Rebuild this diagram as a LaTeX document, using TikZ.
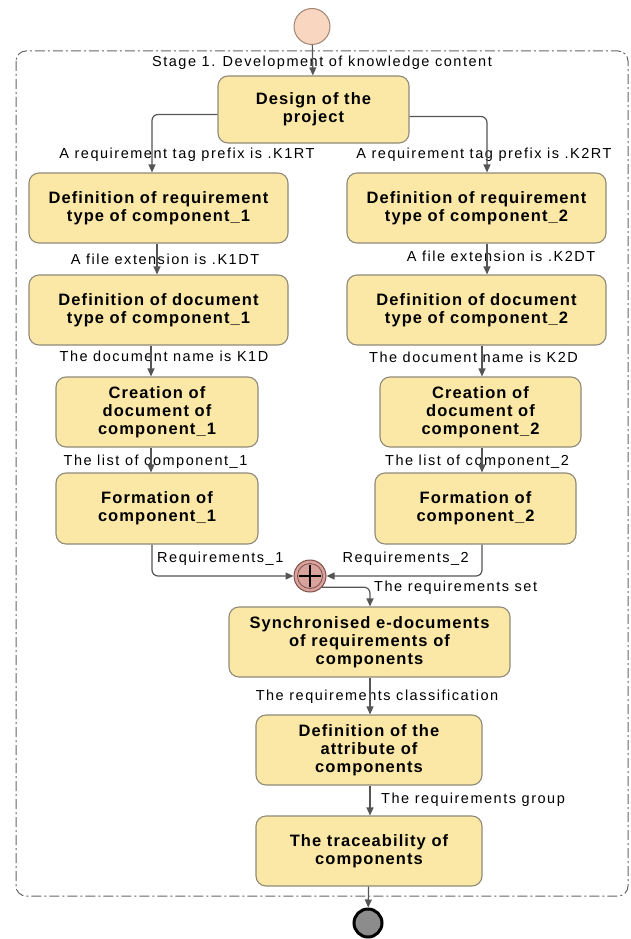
\documentclass[tikz,border=0pt]{standalone}
\usepackage{fontspec}
\setmainfont{Liberation Sans}
\newfontfamily\labfont[LetterSpace=10.5]{Liberation Sans}
\newfontfamily\boxfontfam[LetterSpace=6.5]{Liberation Sans}
\usetikzlibrary{arrows.meta}
\definecolor{boxfill}{HTML}{FCE8A6}
\definecolor{boxline}{HTML}{8F8A78}
\definecolor{conn}{HTML}{555555}
\definecolor{startfill}{HTML}{F9D6BF}
\definecolor{startline}{HTML}{A08474}
\definecolor{gwfill}{HTML}{D9A39D}
\definecolor{gwline}{HTML}{7E4E48}
\tikzset{
  x=1pt, y=-1pt,
  box/.style={draw=boxline, fill=boxfill, line width=1.1pt, rounded corners=10pt,
    align=center, inner sep=0pt, font=\boxfontfam\bfseries\fontsize{16.5}{18}\selectfont},
  lab/.style={inner sep=0pt, font=\labfont\fontsize{14.5}{16}\selectfont},
  conn/.style={draw=conn, line width=1.2pt, rounded corners=6pt,
    -{Triangle[length=8pt,width=7pt]}},
}
\begin{document}
\begin{tikzpicture}
\useasboundingbox (0,0) rectangle (631,939);
% container
\draw[draw=black!60, line width=1pt, rounded corners=10pt,
  dash pattern=on 10pt off 3pt on 2pt off 3pt] (16,51) rectangle (628,896);
% start / end
\node[circle, draw=startline, fill=startfill, line width=1pt, minimum size=36pt, inner sep=0pt] (start) at (312,26.5) {};
\node[circle, draw=black, fill=black!45, line width=3pt, minimum size=28pt, inner sep=0pt] (end) at (368,923) {};
% boxes
\node[box, minimum width=191pt, minimum height=67pt] (design) at (313.5,109.5) {Design of the\\project};
\node[box, minimum width=259pt, minimum height=70pt] (req1) at (158.5,208) {Definition of requirement\\type of component\_1};
\node[box, minimum width=259pt, minimum height=70pt] (req2) at (476.5,208) {Definition of requirement\\type of component\_2};
\node[box, minimum width=259pt, minimum height=70pt] (doc1) at (158.5,310) {Definition of document\\type of component\_1};
\node[box, minimum width=259pt, minimum height=70pt] (doc2) at (476.5,310) {Definition of document\\type of component\_2};
\node[box, minimum width=202pt, minimum height=70pt] (cre1) at (157,412) {Creation of\\document of\\component\_1};
\node[box, minimum width=201pt, minimum height=70pt] (cre2) at (480.5,412) {Creation of\\document of\\component\_2};
\node[box, minimum width=202pt, minimum height=71pt] (for1) at (157,508.5) {Formation of\\component\_1};
\node[box, minimum width=201pt, minimum height=71pt] (for2) at (475.5,508.5) {Formation of\\component\_2};
\node[box, minimum width=281pt, minimum height=70pt] (syn) at (369.5,642) {Synchronised e-documents\\of requirements of\\components};
\node[box, minimum width=226pt, minimum height=70pt] (att) at (369,750) {Definition of the\\attribute of\\components};
\node[box, minimum width=226pt, minimum height=70pt] (tra) at (369,851) {The traceability of\\components};
% gateway
\node[circle, draw=gwline, fill=gwfill, line width=1pt, minimum size=32pt, inner sep=0pt] (gw) at (310,576) {};
\draw[gwline, line width=0.8pt] (gw.center) circle[radius=12.5pt];
\draw[black, line width=2pt] ([xshift=-11pt]gw.center) -- ([xshift=11pt]gw.center)
  ([yshift=-11pt]gw.center) -- ([yshift=11pt]gw.center);
% labels
\node[lab] (tstage) at (322,63) {Stage 1. Development of knowledge content};
\node[lab] (t1) at (187,155) {A requirement tag prefix is .K1RT};
\node[lab] (t2) at (484,155) {A requirement tag prefix is .K2RT};
\node[lab] (t3) at (165,259) {A file extension is .K1DT};
\node[lab] (t4) at (501,256) {A file extension is .K2DT};
\node[lab] (t5) at (164,356) {The document name is K1D};
\node[lab] (t6) at (473.5,357) {The document name is K2D};
\node[lab] (t7) at (155.5,462) {The list of component\_1};
\node[lab] (t8) at (477,462) {The list of component\_2};
\node[lab, anchor=west] (t9) at (157,559) {Requirements\_1};
\node[lab, anchor=east] (t10) at (469,559) {Requirements\_2};
\node[lab, anchor=west] (t11) at (374,588) {The requirements set};
\node[lab] (t12) at (377,697) {The requirements classification};
\node[lab, anchor=west] (t13) at (381,800) {The requirements group};
% guide coordinates
\coordinate (xl1) at (152,0);
\coordinate (xl2) at (157,0);
\coordinate (xl3) at (151,0);
\coordinate (xr1) at (487,0);
\coordinate (xr3) at (482,0);
\coordinate (xm) at (370,0);
% connectors
\draw[conn] (start) -- (design);
\draw[conn] ([yshift=-5pt]design.west) -| (req1.north -| xl1);
\draw[conn] ([yshift=-7pt]design.east) -| (req2.north -| xr1);
\draw[conn] (req1.south -| xl2) -- (doc1.north -| xl2);
\draw[conn] (req2.south -| xr1) -- (doc2.north -| xr1);
\draw[conn] (doc1.south -| xl3) -- (cre1.north -| xl3);
\draw[conn] (doc2.south -| xr3) -- (cre2.north -| xr3);
\draw[conn] (cre1.south -| xl3) -- (for1.north -| xl3);
\draw[conn] (cre2.south -| xr3) -- (for2.north -| xr3);
\draw[conn] (for1.south -| xl1) |- (gw.west);
\draw[conn] (for2.south -| xr3) |- (gw.east);
\draw[conn] (gw.-43) -| (syn.north -| xm);
\draw[conn] (syn.south -| xm) -- (att.north -| xm);
\draw[conn] (att.south -| xm) -- (tra.north -| xm);
\draw[conn] (tra) -- (end);
\end{tikzpicture}
\end{document}
